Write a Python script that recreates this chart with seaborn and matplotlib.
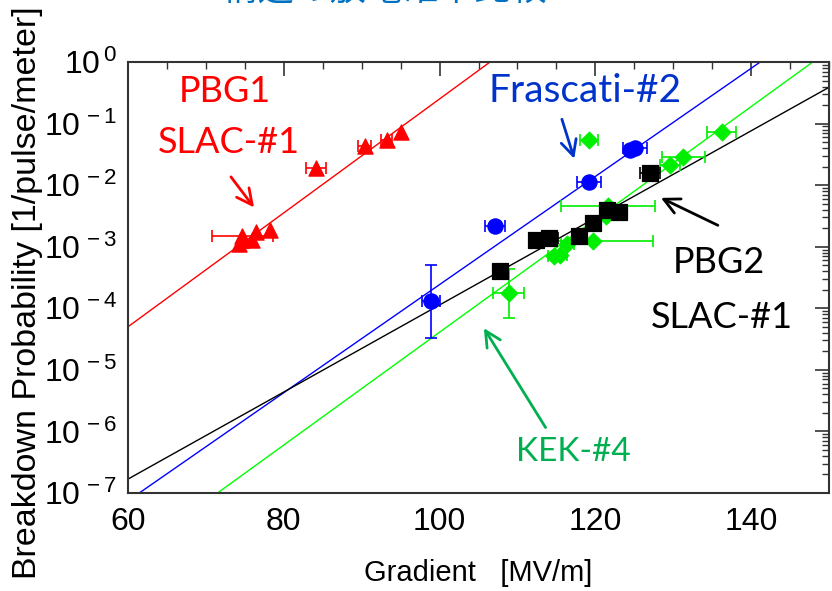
import numpy as np
import matplotlib
matplotlib.use("Agg")
import matplotlib.pyplot as plt
from matplotlib.ticker import MultipleLocator, LogLocator, NullFormatter
import seaborn as sns
import pandas as pd

# ---- measured breakdown rates ----
pbg1_x = [74.3, 74.7, 74.7, 75.9, 76.4, 78.2, 84.15, 90.4, 93.2, 95.0]
pbg1_y = [1.12e-3, 1.3e-3, 1.48e-3, 1.3e-3, 1.74e-3, 1.9e-3, 1.87e-2, 4.3e-2, 5.4e-2, 7.4e-2]
pbg1_xerr = [0.0, 0.0, 3.9, 0.0, 0.0, 0.0, 1.3, 0.85, 0.7, 0.0]

fras_x = [98.9, 107.1, 119.2, 124.5, 125.1]
fras_y = [1.3e-4, 2.15e-3, 1.12e-2, 3.7e-2, 4.05e-2]
fras_xerr = [1.1, 1.3, 1.5, 0.0, 1.5]
fras_ylo = [9.7e-5, 0, 0, 0, 0]
fras_yhi = [3.7e-4, 0, 0, 0, 0]

pbg2_x = [107.7, 112.4, 114.0, 117.9, 119.65, 121.5, 123.1, 127.0]
pbg2_y = [4.0e-4, 1.3e-3, 1.4e-3, 1.48e-3, 2.45e-3, 4.0e-3, 3.7e-3, 1.55e-2]
pbg2_xerr = [0.0, 0.0, 1.2, 0.0, 0.0, 0.0, 0.0, 1.25]
pbg2_ylo = [1.0e-4, 0, 0, 0, 0, 0, 0, 0]
pbg2_yhi = [1.3e-4, 0, 0, 0, 0, 0, 0, 0]

kek_x = [108.9, 114.7, 115.5, 116.4, 119.65, 121.4, 121.6, 119.2, 129.6, 131.3, 136.2]
kek_y = [1.78e-4, 7.0e-4, 7.4e-4, 1.09e-3, 1.23e-3, 3.1e-3, 4.6e-3, 5.5e-2, 2.1e-2, 2.85e-2, 7.3e-2]
kek_xerr = [2.0, 0.8, 0.8, 0.8, 7.8, 0.0, 6.0, 1.15, 1.25, 2.75, 1.9]
kek_ylo = [1.08e-4, 0, 0, 0, 0, 0, 0, 0, 0, 0, 0]
kek_yhi = [2.6e-4, 0, 0, 0, 0, 0, 0, 0, 0, 0, 0]

# ---- exponential fits: log10(P) = a + b * (E - 60) ----
fit_names = ["PBG1", "Frascati", "KEK", "PBG2"]
fit_a = [-4.30, -7.127, -8.053, -6.774]
fit_b = [0.0925, 0.0878, 0.0916, 0.0707]

sns.set_style("white")
plt.rcParams["font.family"] = ["Liberation Sans", "DejaVu Sans"]
plt.rcParams["mathtext.fontset"] = "custom"
plt.rcParams["mathtext.rm"] = "Liberation Sans"
plt.rcParams["mathtext.it"] = "Liberation Sans"
plt.rcParams["mathtext.bf"] = "Liberation Sans"

fig = plt.figure(figsize=(8.32, 5.91), dpi=100)
ax = fig.add_axes([128 / 832, 1 - 493 / 591, (829 - 128) / 832, (493 - 62) / 591])

ax.set_yscale("log")
ax.set_xlim(60, 150)
ax.set_ylim(1e-7, 1)

line_colors = {"PBG1": "#ff0000", "Frascati": "#0000ff", "KEK": "#00ff00", "PBG2": "#000000"}
E = np.linspace(60, 150, 200)
rows = []
for n, a, b in zip(fit_names, fit_a, fit_b):
    for e in E:
        rows.append((n, e, 10 ** (a + b * (e - 60))))
fits = pd.DataFrame(rows, columns=["name", "E", "P"])
sns.lineplot(data=fits, x="E", y="P", hue="name", palette=line_colors,
             lw=1.0, legend=False, ax=ax, zorder=2)

def bars(x, y, xerr, ylo, yhi, color):
    x = np.asarray(x); y = np.asarray(y)
    xe = np.asarray(xerr)
    m = xe > 0
    if m.any():
        ax.errorbar(x[m], y[m], xerr=xe[m], fmt="none", ecolor=color,
                    elinewidth=1.2, capsize=4, capthick=1.2, zorder=3)
    if ylo is not None:
        lo = np.asarray(ylo); hi = np.asarray(yhi)
        m = (lo > 0) | (hi > 0)
        if m.any():
            ax.errorbar(x[m], y[m], yerr=[lo[m], hi[m]], fmt="none", ecolor=color,
                        elinewidth=1.2, capsize=4, capthick=1.2, zorder=3)

bars(pbg1_x, pbg1_y, pbg1_xerr, None, None, "#ff0000")
bars(fras_x, fras_y, fras_xerr, fras_ylo, fras_yhi, "#0000ff")
bars(kek_x, kek_y, kek_xerr, kek_ylo, kek_yhi, "#00ee00")
bars(pbg2_x, pbg2_y, pbg2_xerr, pbg2_ylo, pbg2_yhi, "#000000")

sns.scatterplot(x=pbg1_x, y=pbg1_y, marker="^", s=120, color="#ff0000", edgecolor="#ff0000", ax=ax, zorder=4)
sns.scatterplot(x=kek_x, y=kek_y, marker="D", s=75, color="#00ee00", edgecolor="#00ee00", ax=ax, zorder=4)
sns.scatterplot(x=fras_x, y=fras_y, marker="o", s=120, color="#0000ff", edgecolor="#0000ff", ax=ax, zorder=5)
sns.scatterplot(x=pbg2_x, y=pbg2_y, marker="s", s=120, color="#000000", edgecolor="#000000", ax=ax, zorder=5)

# ---- axes styling ----
ax.xaxis.set_major_locator(MultipleLocator(20))
ax.xaxis.set_minor_locator(MultipleLocator(5))
ax.yaxis.set_minor_locator(LogLocator(base=10, subs=np.arange(2, 10), numticks=20))
ax.yaxis.set_minor_formatter(NullFormatter())
ax.set_yticks([10.0 ** k for k in range(-7, 1)])
ax.set_yticklabels([r"$\mathregular{10^{\,%d}}$" % k for k in range(-7, 1)])
ax.tick_params(which="both", direction="in", top=True, right=True, colors="#333333",
               labelcolor="black")
ax.tick_params(which="major", length=10, width=1.2, labelsize=23)
ax.tick_params(axis="x", which="major", pad=10)
ax.tick_params(axis="y", which="major", pad=8)
ax.tick_params(which="minor", length=5, width=1.0)
for s in ax.spines.values():
    s.set_color("#333333")
    s.set_linewidth(1.5)

ax.set_xlabel("Gradient   [MV/m]", fontsize=21, color="black")
ax.xaxis.set_label_coords(0.5, -0.152)
ax.set_ylabel("Breakdown Probability [1/pulse/meter]", fontsize=24.5, color="black")
ax.yaxis.set_label_coords(-0.121, 0.465)

# ---- annotations ----
lab = dict(family=["Lato", "DejaVu Sans"], fontsize=26, ha="center", va="center")
ax.text(72.5, 0.333, "PBG1", color="#ff0000", **lab)
ax.text(73.0, 0.05, "SLAC-#1", color="#ff0000", **lab)
ax.text(118.7, 0.333, "Frascati-#2", color="#0033cc", **{**lab, "fontsize": 28})
ax.text(135.8, 5.5e-4, "PBG2", color="#000000", **lab)
ax.text(136.3, 7.0e-5, "SLAC-#1", color="#000000", **lab)
ax.text(117.2, 4.7e-7, "KEK-#4", color="#00b050", **{**lab, "fontsize": 24})

def arrow(tail, head, color):
    ax.annotate("", xy=head, xytext=tail,
                arrowprops=dict(arrowstyle="->", color=color, lw=2.0, mutation_scale=28))

arrow((73.0, 0.0148), (76.4, 4.0e-3), "#ff0000")
arrow((115.6, 0.130), (117.4, 0.0243), "#0033cc")
arrow((136.05, 2.13e-3), (128.1, 6.5e-3), "#000000")
arrow((113.8, 1.06e-6), (105.5, 5.2e-5), "#00b050")

# slide heading above the plot, running off the top edge
fig.text(150 / 832, 1.0, "PBG構造の放電確率比較", color="#0070c0", fontsize=26,
         family=["Noto Sans CJK JP", "DejaVu Sans"], ha="left", va="baseline")

fig.savefig("out.png", dpi=100)
